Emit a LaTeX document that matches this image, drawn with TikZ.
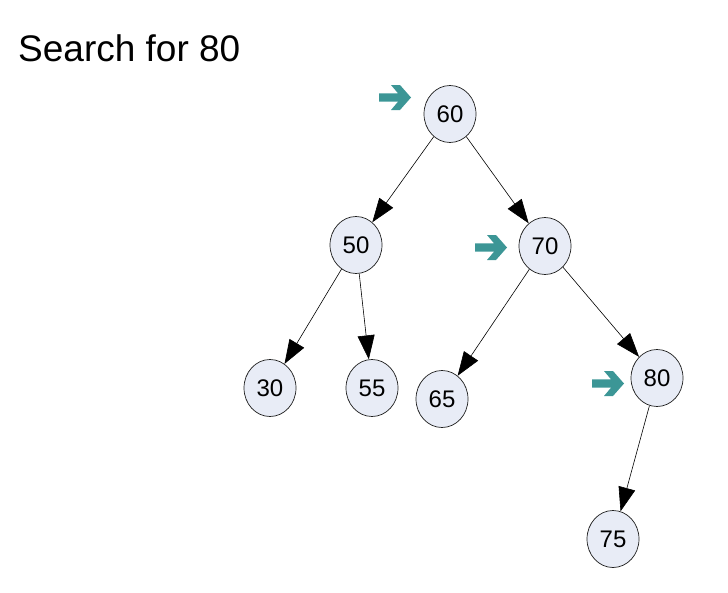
\documentclass[tikz,border=0pt]{standalone}
\usepackage{fontspec}
\setmainfont{Liberation Sans}
\usetikzlibrary{shapes.geometric,arrows.meta}
\definecolor{tealc}{RGB}{60,150,150}
\definecolor{nodefill}{RGB}{232,236,246}
\definecolor{nodeline}{RGB}{30,30,30}
\tikzset{
  bst/.style={ellipse, draw=nodeline, fill=nodefill, line width=0.7pt,
    minimum width=52pt, minimum height=57pt, inner sep=0pt,
    font=\fontsize{24}{24}\selectfont},
  edge/.style={line width=0.6pt, -{Triangle[length=24pt,width=17pt]}, shorten >=0pt},
  pointer/.pic={\fill[tealc] (0,4.2) -- (19,4.2) -- (12,12.5) -- (21,12.5) -- (32,0)
      -- (21,-12.5) -- (12,-12.5) -- (19,-4.2) -- (0,-4.2) -- cycle;}
}
\begin{document}
\begin{tikzpicture}[x=1pt,y=-1pt]
\useasboundingbox (0,0) rectangle (728,592);
\node[anchor=base west, inner sep=0pt, font=\fontsize{37}{37}\selectfont] (title) at (18,61) {Search for 80};
\node[bst] (n60) at (450,114) {60};
\node[bst] (n50) at (356,245) {50};
\node[bst] (n70) at (545,246) {70};
\node[bst] (n30) at (270,388) {30};
\node[bst] (n55) at (372,388) {55};
\node[bst] (n65) at (442,399) {65};
\node[bst] (n80) at (657,378) {80};
\node[bst] (n75) at (613,539) {75};
\draw[edge] (n60) -- (n50);
\draw[edge] (n60) -- (n70);
\draw[edge] (n50) -- (n30);
\draw[edge] (n50) -- (n55);
\draw[edge] (n70) -- (n65);
\draw[edge] (n70) -- (n80);
\draw[edge] (n80) -- (n75);
\pic at (379,97.5) {pointer};
\pic at (475,247.5) {pointer};
\pic at (592,383.5) {pointer};
\end{tikzpicture}
\end{document}
